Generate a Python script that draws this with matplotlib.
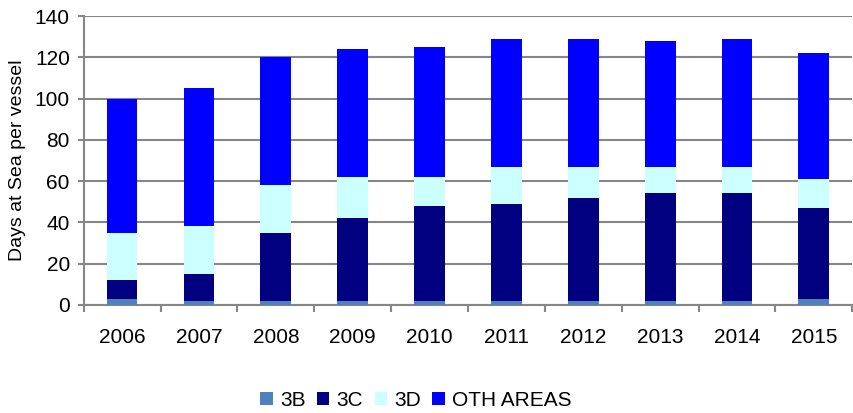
import matplotlib.pyplot as plt
import numpy as np
from matplotlib.ticker import FixedLocator

plt.rcParams['font.family'] = ['Liberation Sans', 'DejaVu Sans']

years = ['2006', '2007', '2008', '2009', '2010', '2011', '2012', '2013', '2014', '2015']
area_3b = [3, 2, 2, 2, 2, 2, 2, 2, 2, 3]
area_3c = [9, 13, 33, 40, 46, 47, 50, 52, 52, 44]
area_3d = [23, 23, 23, 20, 14, 18, 15, 13, 13, 14]
oth_areas = [65, 67, 62, 62, 63, 62, 62, 61, 62, 61]

series = [('3B', area_3b, '#4F81BD'),
          ('3C', area_3c, '#000080'),
          ('3D', area_3d, '#CCFFFF'),
          ('OTH AREAS', oth_areas, '#0000FF')]

fig = plt.figure(figsize=(8.54, 4.13), dpi=100)
ax = fig.add_axes([0.098, 0.262, 0.9, 0.699])

x = np.arange(len(years))
bottom = np.zeros(len(years))
for name, vals, color in series:
    ax.bar(x, vals, width=0.4, bottom=bottom, color=color, label=name, zorder=3)
    bottom += np.array(vals)

ax.set_xlim(-0.5, len(years) - 0.5)
ax.set_ylim(0, 140)
ax.set_yticks(range(0, 141, 20))
ax.set_xticks(x)
ax.set_xticklabels(years)
ax.xaxis.set_minor_locator(FixedLocator(np.arange(-0.5, len(years), 1.0)))
ax.tick_params(axis='x', which='major', length=0, pad=17, labelsize=15)
ax.tick_params(axis='x', which='minor', length=5, width=1.5, color='#868686')
ax.tick_params(axis='y', length=4, width=1.5, color='#868686', labelsize=15, pad=6)

ax.yaxis.grid(True, color='#868686', linewidth=1.5, zorder=0)
for side in ['top', 'right']:
    ax.spines[side].set_visible(False)
for side in ['left', 'bottom']:
    ax.spines[side].set_color('#868686')
    ax.spines[side].set_linewidth(1.5)

ax.set_ylabel('Days at Sea per vessel', fontsize=14, labelpad=6)

fig.legend(loc='center', bbox_to_anchor=(0.487, 0.03), ncol=4, frameon=False,
           fontsize=15, handlelength=0.6, handleheight=0.6, handletextpad=0.34,
           columnspacing=0.55)

fig.savefig('out.png', dpi=100)
